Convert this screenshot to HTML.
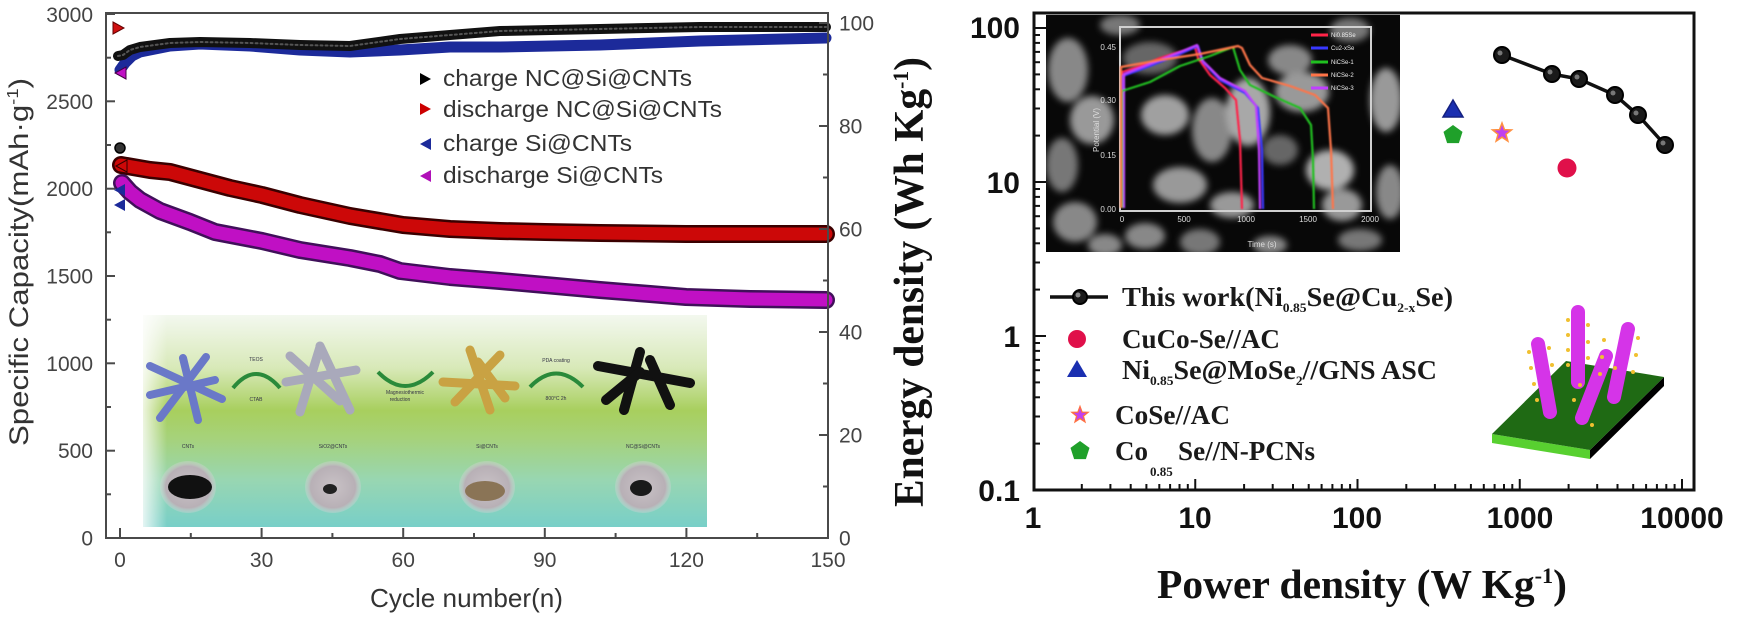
<!DOCTYPE html>
<html>
<head>
<meta charset="utf-8">
<style>
html,body{margin:0;padding:0;background:#fff;}
svg{display:block;}
</style>
</head>
<body>
<svg width="1737" height="617" viewBox="0 0 1737 617" xmlns="http://www.w3.org/2000/svg">
<defs>
  <linearGradient id="insetG" x1="0" y1="0" x2="0" y2="1">
    <stop offset="0" stop-color="#f3f8ef"/>
    <stop offset="0.25" stop-color="#d8e9b8"/>
    <stop offset="0.45" stop-color="#a8cf5e"/>
    <stop offset="0.58" stop-color="#a6d27a"/>
    <stop offset="0.78" stop-color="#98d6b2"/>
    <stop offset="1" stop-color="#78cfc8"/>
  </linearGradient>
  <linearGradient id="fadeL" x1="0" y1="0" x2="1" y2="0">
    <stop offset="0" stop-color="#fff" stop-opacity="0.8"/>
    <stop offset="1" stop-color="#fff" stop-opacity="0"/>
  </linearGradient>
  <radialGradient id="dish" cx="0.5" cy="0.5" r="0.5">
    <stop offset="0" stop-color="#c9c2c6"/>
    <stop offset="0.8" stop-color="#b8b0b6"/>
    <stop offset="1" stop-color="#d8d4d8" stop-opacity="0.3"/>
  </radialGradient>
  <filter id="blur3" x="-50%" y="-50%" width="200%" height="200%"><feGaussianBlur stdDeviation="3.5"/></filter>
  <filter id="blur1"><feGaussianBlur stdDeviation="0.7"/></filter>
  <clipPath id="semClip"><rect x="1046" y="15" width="354" height="237"/></clipPath>
</defs>

<!-- ================= LEFT CHART ================= -->
<rect x="143" y="315" width="564" height="212" fill="url(#insetG)"/>
<rect x="143" y="315" width="24" height="212" fill="url(#fadeL)"/>
<path d="M233,388 Q256,360 280,388" fill="none" stroke="#2a8a3a" stroke-width="4"/>
<path d="M378,372 Q405,400 433,372" fill="none" stroke="#2a8a3a" stroke-width="4"/>
<path d="M530,387 Q556,360 583,387" fill="none" stroke="#2a8a3a" stroke-width="4"/>
<g font-family="Liberation Sans, sans-serif" font-size="5" fill="#334">
  <text x="256" y="361" text-anchor="middle">TEOS</text>
  <text x="256" y="401" text-anchor="middle">CTAB</text>
  <text x="405" y="394" text-anchor="middle">Magnesiothermic</text>
  <text x="400" y="401" text-anchor="middle">reduction</text>
  <text x="556" y="362" text-anchor="middle">PDA coating</text>
  <text x="556" y="400" text-anchor="middle">800°C 2h</text>
  <text x="188" y="448" text-anchor="middle">CNTs</text>
  <text x="333" y="448" text-anchor="middle">SiO2@CNTs</text>
  <text x="487" y="448" text-anchor="middle">Si@CNTs</text>
  <text x="643" y="448" text-anchor="middle">NC@Si@CNTs</text>
</g>
<g stroke-linecap="round" fill="none">
  <g stroke="#6a78c8" stroke-width="8">
    <line x1="150" y1="366" x2="222" y2="399"/>
    <line x1="160" y1="418" x2="206" y2="357"/>
    <line x1="183" y1="358" x2="198" y2="420"/>
    <line x1="150" y1="395" x2="215" y2="380"/>
  </g>
  <g stroke="#a9a9bb" stroke-width="9">
    <line x1="286" y1="382" x2="356" y2="370"/>
    <line x1="300" y1="412" x2="320" y2="347"/>
    <line x1="320" y1="346" x2="350" y2="410"/>
    <line x1="290" y1="356" x2="340" y2="401"/>
  </g>
  <g stroke="#c9a243" stroke-width="9">
    <line x1="443" y1="382" x2="515" y2="386"/>
    <line x1="470" y1="350" x2="490" y2="410"/>
    <line x1="455" y1="402" x2="500" y2="355"/>
    <line x1="478" y1="362" x2="505" y2="398"/>
  </g>
  <g stroke="#111" stroke-width="10">
    <line x1="598" y1="366" x2="690" y2="383"/>
    <line x1="640" y1="352" x2="624" y2="410"/>
    <line x1="650" y1="360" x2="670" y2="405"/>
    <line x1="606" y1="400" x2="640" y2="372"/>
  </g>
</g>
<g>
  <ellipse cx="188" cy="487" rx="28" ry="26" fill="url(#dish)"/>
  <ellipse cx="333" cy="487" rx="28" ry="26" fill="url(#dish)"/>
  <ellipse cx="487" cy="487" rx="28" ry="26" fill="url(#dish)"/>
  <ellipse cx="643" cy="487" rx="28" ry="26" fill="url(#dish)"/>
  <ellipse cx="190" cy="487" rx="22" ry="12" fill="#111"/>
  <ellipse cx="330" cy="489" rx="7" ry="5" fill="#222"/>
  <ellipse cx="485" cy="491" rx="20" ry="10" fill="#8a7456"/>
  <ellipse cx="641" cy="488" rx="11" ry="8" fill="#1a1a1a"/>
</g>

<!-- data bands -->
<g fill="none" stroke-linejoin="round" stroke-linecap="round">
  <path d="M120,70 L125,63 L132,56 L140,52 L170,46 L200,44 L250,46 L300,50 L350,52 L400,50 L450,47 L500,47 L600,45 L700,41 L826,38" stroke="#1c2a9a" stroke-width="11"/>
  <path d="M118,56 L123,55 L130,50 L140,47 L170,43 L200,42 L250,43 L300,45 L350,46 L400,39 L450,35 L500,31 L600,29 L700,27 L826,27" stroke="#111" stroke-width="10"/>
  <path d="M118,56 L123,55 L130,50 L140,47 L170,43 L200,42 L250,43 L300,45 L350,46 L400,39 L450,35 L500,31 L600,29 L700,27 L826,27" stroke="#555" stroke-width="2" stroke-dasharray="2 3"/>
  <path d="M121,165 L150,170 L170,172 L200,180 L230,188 L262,195 L300,205 L350,216 L403,225 L450,229 L500,231 L545,232 L600,233 L686,234 L826,234" stroke="#3a0000" stroke-width="18"/>
  <path d="M121,165 L150,170 L170,172 L200,180 L230,188 L262,195 L300,205 L350,216 L403,225 L450,229 L500,231 L545,232 L600,233 L686,234 L826,234" stroke="#cc0808" stroke-width="13"/>
  <path d="M122,183 L130,192 L140,200 L160,211 L190,222 L215,232 L262,241 L300,250 L350,258 L380,264 L400,271 L450,277 L500,281 L545,285 L600,290 L650,294 L686,297 L750,299 L826,300" stroke="#40105a" stroke-width="18"/>
  <path d="M122,183 L130,192 L140,200 L160,211 L190,222 L215,232 L262,241 L300,250 L350,258 L380,264 L400,271 L450,277 L500,281 L545,285 L600,290 L650,294 L686,297 L750,299 L826,300" stroke="#c010c4" stroke-width="13"/>
</g>
<polygon points="113,22 124,28 113,34" fill="#d01010" stroke="#600" stroke-width="1"/>
<polygon points="126,67 115,73 126,79" fill="#c010c4" stroke="#404" stroke-width="1"/>
<circle cx="120" cy="148" r="5" fill="#333" stroke="#000" stroke-width="1.5"/>
<polygon points="125,184 114,190 125,196" fill="#1c2a9a"/>
<polygon points="125,199 114,205 125,211" fill="#1c2a9a"/>
<polygon points="127,160 116,166 127,172" fill="#cc0808" stroke="#300" stroke-width="1"/>

<rect x="106" y="13" width="722" height="525" fill="none" stroke="#4a4a4a" stroke-width="2"/>
<g stroke="#4a4a4a" stroke-width="2">
  <line x1="106" y1="538" x2="115" y2="538"/><line x1="106" y1="450.7" x2="115" y2="450.7"/>
  <line x1="106" y1="363.3" x2="115" y2="363.3"/><line x1="106" y1="276" x2="115" y2="276"/>
  <line x1="106" y1="188.7" x2="115" y2="188.7"/><line x1="106" y1="101.3" x2="115" y2="101.3"/>
  <line x1="106" y1="14" x2="115" y2="14"/>
  <line x1="106" y1="494.3" x2="111" y2="494.3"/><line x1="106" y1="407" x2="111" y2="407"/>
  <line x1="106" y1="319.7" x2="111" y2="319.7"/><line x1="106" y1="232.3" x2="111" y2="232.3"/>
  <line x1="106" y1="145" x2="111" y2="145"/><line x1="106" y1="57.7" x2="111" y2="57.7"/>
  <line x1="819" y1="538" x2="828" y2="538"/><line x1="819" y1="435" x2="828" y2="435"/>
  <line x1="819" y1="332" x2="828" y2="332"/><line x1="819" y1="229" x2="828" y2="229"/>
  <line x1="819" y1="126" x2="828" y2="126"/><line x1="819" y1="23" x2="828" y2="23"/>
  <line x1="823" y1="486.5" x2="828" y2="486.5"/><line x1="823" y1="383.5" x2="828" y2="383.5"/>
  <line x1="823" y1="280.5" x2="828" y2="280.5"/><line x1="823" y1="177.5" x2="828" y2="177.5"/>
  <line x1="823" y1="74.5" x2="828" y2="74.5"/>
  <line x1="120" y1="538" x2="120" y2="528"/><line x1="261.6" y1="538" x2="261.6" y2="528"/>
  <line x1="403.2" y1="538" x2="403.2" y2="528"/><line x1="544.8" y1="538" x2="544.8" y2="528"/>
  <line x1="686.4" y1="538" x2="686.4" y2="528"/>
  <line x1="190.8" y1="538" x2="190.8" y2="533"/><line x1="332.4" y1="538" x2="332.4" y2="533"/>
  <line x1="474" y1="538" x2="474" y2="533"/><line x1="615.6" y1="538" x2="615.6" y2="533"/>
  <line x1="757.2" y1="538" x2="757.2" y2="533"/>
</g>
<g font-family="Liberation Sans, sans-serif" font-size="21" fill="#444" text-anchor="end">
  <text x="93" y="545.5">0</text>
  <text x="93" y="458">500</text>
  <text x="93" y="371">1000</text>
  <text x="93" y="283.5">1500</text>
  <text x="93" y="196">2000</text>
  <text x="93" y="109">2500</text>
  <text x="93" y="22">3000</text>
</g>
<g font-family="Liberation Sans, sans-serif" font-size="21" fill="#444" text-anchor="start">
  <text x="839" y="545.5">0</text>
  <text x="839" y="442.5">20</text>
  <text x="839" y="339.5">40</text>
  <text x="839" y="236.5">60</text>
  <text x="839" y="133.5">80</text>
  <text x="839" y="30.5">100</text>
</g>
<g font-family="Liberation Sans, sans-serif" font-size="21" fill="#444" text-anchor="middle">
  <text x="120" y="567">0</text>
  <text x="261.6" y="567">30</text>
  <text x="403.2" y="567">60</text>
  <text x="544.8" y="567">90</text>
  <text x="686.4" y="567">120</text>
  <text x="828" y="567">150</text>
</g>
<text x="370" y="607" font-family="Liberation Sans, sans-serif" font-size="26" fill="#333" textLength="193" lengthAdjust="spacingAndGlyphs">Cycle number(n)</text>
<text transform="translate(28,262) rotate(-90)" text-anchor="middle" font-family="Liberation Sans, sans-serif" font-size="27" fill="#333" textLength="368" lengthAdjust="spacingAndGlyphs">Specific Capacity(mAh·g<tspan dy="-10" font-size="16">-1</tspan><tspan dy="10">)</tspan></text>

<polygon points="420,73 431,79 420,85" fill="#000"/>
<polygon points="420,103 431,109 420,115" fill="#c00"/>
<polygon points="431,138 420,144 431,150" fill="#1c2a9a"/>
<polygon points="431,170 420,176 431,182" fill="#b010b8"/>
<g font-family="Liberation Sans, sans-serif" font-size="23" fill="#333">
  <text x="443" y="86" textLength="249" lengthAdjust="spacingAndGlyphs">charge NC@Si@CNTs</text>
  <text x="443" y="117" textLength="279" lengthAdjust="spacingAndGlyphs">discharge NC@Si@CNTs</text>
  <text x="443" y="151" textLength="189" lengthAdjust="spacingAndGlyphs">charge Si@CNTs</text>
  <text x="443" y="183" textLength="220" lengthAdjust="spacingAndGlyphs">discharge Si@CNTs</text>
</g>

<!-- ================= RIGHT CHART ================= -->
<rect x="1046" y="15" width="354" height="237" fill="#080808"/>
<g clip-path="url(#semClip)" filter="url(#blur3)">
  <ellipse cx="1068" cy="70" rx="20" ry="32" fill="#888"/>
  <ellipse cx="1092" cy="120" rx="22" ry="24" fill="#999"/>
  <ellipse cx="1062" cy="165" rx="16" ry="27" fill="#777"/>
  <ellipse cx="1075" cy="222" rx="22" ry="20" fill="#888"/>
  <ellipse cx="1150" cy="58" rx="27" ry="16" fill="#666"/>
  <ellipse cx="1165" cy="115" rx="24" ry="20" fill="#a0a0a0"/>
  <ellipse cx="1180" cy="185" rx="27" ry="18" fill="#999"/>
  <ellipse cx="1145" cy="236" rx="20" ry="13" fill="#888"/>
  <ellipse cx="1212" cy="130" rx="20" ry="32" fill="#888"/>
  <ellipse cx="1248" cy="112" rx="22" ry="34" fill="#a8a8a8"/>
  <ellipse cx="1232" cy="205" rx="22" ry="13" fill="#999"/>
  <ellipse cx="1290" cy="60" rx="22" ry="15" fill="#888"/>
  <ellipse cx="1302" cy="92" rx="27" ry="20" fill="#999"/>
  <ellipse cx="1330" cy="170" rx="24" ry="20" fill="#b0b0b0"/>
  <ellipse cx="1342" cy="205" rx="20" ry="16" fill="#999"/>
  <ellipse cx="1386" cy="100" rx="16" ry="32" fill="#999"/>
  <ellipse cx="1390" cy="192" rx="14" ry="27" fill="#888"/>
  <ellipse cx="1270" cy="245" rx="17" ry="9" fill="#888"/>
  <ellipse cx="1360" cy="240" rx="22" ry="11" fill="#777"/>
  <ellipse cx="1105" cy="245" rx="17" ry="11" fill="#888"/>
  <ellipse cx="1200" cy="242" rx="20" ry="13" fill="#777"/>
  <ellipse cx="1280" cy="150" rx="18" ry="15" fill="#666"/>
  <ellipse cx="1120" cy="25" rx="20" ry="10" fill="#777"/>
  <ellipse cx="1350" cy="30" rx="20" ry="12" fill="#777"/>
</g>
<rect x="1120" y="27" width="251" height="184" fill="none" stroke="#d0d0d0" stroke-width="2"/>
<g font-family="Liberation Sans, sans-serif" font-size="8" fill="#ddd">
  <text x="1116" y="50" text-anchor="end">0.45</text>
  <text x="1116" y="103" text-anchor="end">0.30</text>
  <text x="1116" y="158" text-anchor="end">0.15</text>
  <text x="1116" y="212" text-anchor="end">0.00</text>
  <text x="1122" y="222" text-anchor="middle">0</text>
  <text x="1184" y="222" text-anchor="middle">500</text>
  <text x="1246" y="222" text-anchor="middle">1000</text>
  <text x="1308" y="222" text-anchor="middle">1500</text>
  <text x="1370" y="222" text-anchor="middle">2000</text>
  <text x="1262" y="247" text-anchor="middle">Time (s)</text>
  <text transform="translate(1099,130) rotate(-90)" text-anchor="middle">Potential (V)</text>
</g>
<g fill="none" stroke-width="2.2" stroke-linejoin="round" filter="url(#blur1)">
  <path d="M1122,208 L1122,72 L1140,66 L1160,58 L1185,50 L1195,47 L1198,58 L1210,75 L1225,88 L1236,100 L1240,140 L1242,209" stroke="#ff2448"/>
  <path d="M1123,208 L1123,76 L1150,66 L1180,54 L1198,46 L1203,62 L1220,80 L1245,93 L1258,108 L1262,150 L1263,209" stroke="#3838ff"/>
  <path d="M1124,208 L1124,74 L1150,64 L1180,52 L1197,45 L1202,60 L1220,78 L1245,91 L1256,106 L1259,150 L1260,209" stroke="#c040ff"/>
  <path d="M1122,208 L1122,91 L1150,82 L1180,66 L1210,56 L1233,47 L1240,70 L1250,85 L1275,97 L1300,108 L1311,125 L1313,160 L1314,209" stroke="#20c020"/>
  <path d="M1121,208 L1121,67 L1160,60 L1200,54 L1238,46 L1242,48 L1250,65 L1262,78 L1290,86 L1315,95 L1328,108 L1331,150 L1333,209" stroke="#ff7448"/>
</g>
<g stroke-width="3">
  <line x1="1311" y1="35" x2="1328" y2="35" stroke="#ff2448"/>
  <line x1="1311" y1="48" x2="1328" y2="48" stroke="#3838ff"/>
  <line x1="1311" y1="62" x2="1328" y2="62" stroke="#20c020"/>
  <line x1="1311" y1="75" x2="1328" y2="75" stroke="#ff7448"/>
  <line x1="1311" y1="88" x2="1328" y2="88" stroke="#c040ff"/>
</g>
<g font-family="Liberation Sans, sans-serif" font-size="6" fill="#eee">
  <text x="1331" y="37">Ni0.85Se</text>
  <text x="1331" y="50">Cu2-xSe</text>
  <text x="1331" y="64">NiCSe-1</text>
  <text x="1331" y="77">NiCSe-2</text>
  <text x="1331" y="90">NiCSe-3</text>
</g>

<polyline points="1502,55 1552,74 1579,79 1615,95 1638,115 1665,145" fill="none" stroke="#111" stroke-width="3.5"/>
<g fill="#1a1a1a" stroke="#000" stroke-width="2">
  <circle cx="1502" cy="55" r="8"/><circle cx="1552" cy="74" r="8"/>
  <circle cx="1579" cy="79" r="8"/><circle cx="1615" cy="95" r="8"/>
  <circle cx="1638" cy="115" r="8"/><circle cx="1665" cy="145" r="8"/>
</g>
<g fill="#777">
  <circle cx="1500" cy="53" r="2.5"/><circle cx="1550" cy="72" r="2.5"/>
  <circle cx="1577" cy="77" r="2.5"/><circle cx="1613" cy="93" r="2.5"/>
  <circle cx="1636" cy="113" r="2.5"/><circle cx="1663" cy="143" r="2.5"/>
</g>
<polygon transform="translate(1453,110)" points="0,-10 10,7 -10,7" fill="#1a2fb0" stroke="#142080" stroke-width="1.5"/>
<polygon transform="translate(1453,135)" points="0,-10 9.51,-3.09 5.88,8.09 -5.88,8.09 -9.51,-3.09" fill="#1fa02a"/>
<polygon transform="translate(1502,133)" points="0,-10 2.47,-3.4 9.51,-3.09 3.99,1.3 5.88,8.09 0,4.2 -5.88,8.09 -3.99,1.3 -9.51,-3.09 -2.47,-3.4" fill="#c040f0" stroke="#ff9040" stroke-width="1.5"/>
<circle cx="1567" cy="168" r="9.5" fill="#e0104a"/>

<!-- 3D illustration -->
<polygon points="1492,434 1590,450 1590,459 1492,443" fill="#58d030"/>
<polygon points="1590,450 1664,377 1664,386 1590,459" fill="#000"/>
<polygon points="1492,434 1566,361 1664,377 1590,450" fill="#1f6a14"/>
<g stroke-linecap="round">
  <line x1="1578" y1="382" x2="1578" y2="312" stroke="#d534e8" stroke-width="14"/>
  <line x1="1614" y1="397" x2="1628" y2="329" stroke="#d534e8" stroke-width="14"/>
  <line x1="1550" y1="412" x2="1538" y2="344" stroke="#d534e8" stroke-width="14"/>
  <line x1="1582" y1="418" x2="1606" y2="356" stroke="#d534e8" stroke-width="14"/>
</g>
<g fill="#f0c030">
  <circle cx="1568" cy="320" r="2"/><circle cx="1568" cy="335" r="2"/><circle cx="1568" cy="350" r="2"/><circle cx="1568" cy="365" r="2"/>
  <circle cx="1588" cy="325" r="2"/><circle cx="1588" cy="342" r="2"/><circle cx="1588" cy="358" r="2"/>
  <circle cx="1529" cy="352" r="2"/><circle cx="1531" cy="368" r="2"/><circle cx="1534" cy="384" r="2"/><circle cx="1537" cy="400" r="2"/>
  <circle cx="1549" cy="348" r="2"/><circle cx="1552" cy="365" r="2"/>
  <circle cx="1604" cy="340" r="2"/><circle cx="1602" cy="357" r="2"/><circle cx="1600" cy="374" r="2"/>
  <circle cx="1638" cy="338" r="2"/><circle cx="1636" cy="355" r="2"/><circle cx="1633" cy="372" r="2"/>
  <circle cx="1574" cy="400" r="2"/><circle cx="1580" cy="385" r="2"/><circle cx="1615" cy="368" r="2"/><circle cx="1592" cy="425" r="2"/>
</g>

<rect x="1034" y="13" width="660" height="477" fill="none" stroke="#111" stroke-width="3"/>
<g stroke="#111" stroke-width="2">
  <line x1="1034" y1="490" x2="1046" y2="490"/><line x1="1034" y1="336" x2="1046" y2="336"/>
  <line x1="1034" y1="182" x2="1046" y2="182"/><line x1="1034" y1="28" x2="1046" y2="28"/>
  <line x1="1034" y1="443.6" x2="1040" y2="443.6"/><line x1="1034" y1="416.5" x2="1040" y2="416.5"/>
  <line x1="1034" y1="397.3" x2="1040" y2="397.3"/><line x1="1034" y1="382.4" x2="1040" y2="382.4"/>
  <line x1="1034" y1="370.2" x2="1040" y2="370.2"/><line x1="1034" y1="359.9" x2="1040" y2="359.9"/>
  <line x1="1034" y1="350.9" x2="1040" y2="350.9"/><line x1="1034" y1="343" x2="1040" y2="343"/>
  <line x1="1034" y1="289.6" x2="1040" y2="289.6"/><line x1="1034" y1="262.5" x2="1040" y2="262.5"/>
  <line x1="1034" y1="243.3" x2="1040" y2="243.3"/><line x1="1034" y1="228.4" x2="1040" y2="228.4"/>
  <line x1="1034" y1="216.2" x2="1040" y2="216.2"/><line x1="1034" y1="205.9" x2="1040" y2="205.9"/>
  <line x1="1034" y1="196.9" x2="1040" y2="196.9"/><line x1="1034" y1="189" x2="1040" y2="189"/>
  <line x1="1034" y1="135.6" x2="1040" y2="135.6"/><line x1="1034" y1="108.5" x2="1040" y2="108.5"/>
  <line x1="1034" y1="89.3" x2="1040" y2="89.3"/><line x1="1034" y1="74.4" x2="1040" y2="74.4"/>
  <line x1="1034" y1="62.2" x2="1040" y2="62.2"/><line x1="1034" y1="51.9" x2="1040" y2="51.9"/>
  <line x1="1034" y1="42.9" x2="1040" y2="42.9"/><line x1="1034" y1="35" x2="1040" y2="35"/>
  <line x1="1195.25" y1="490" x2="1195.25" y2="479"/><line x1="1357.5" y1="490" x2="1357.5" y2="479"/>
  <line x1="1519.75" y1="490" x2="1519.75" y2="479"/><line x1="1682" y1="490" x2="1682" y2="479"/>
  <line x1="1081.8" y1="490" x2="1081.8" y2="484"/><line x1="1110.4" y1="490" x2="1110.4" y2="484"/>
  <line x1="1130.7" y1="490" x2="1130.7" y2="484"/><line x1="1146.4" y1="490" x2="1146.4" y2="484"/>
  <line x1="1159.3" y1="490" x2="1159.3" y2="484"/><line x1="1170.1" y1="490" x2="1170.1" y2="484"/>
  <line x1="1179.5" y1="490" x2="1179.5" y2="484"/><line x1="1187.8" y1="490" x2="1187.8" y2="484"/>
  <line x1="1244.1" y1="490" x2="1244.1" y2="484"/><line x1="1272.7" y1="490" x2="1272.7" y2="484"/>
  <line x1="1293" y1="490" x2="1293" y2="484"/><line x1="1308.7" y1="490" x2="1308.7" y2="484"/>
  <line x1="1321.6" y1="490" x2="1321.6" y2="484"/><line x1="1332.4" y1="490" x2="1332.4" y2="484"/>
  <line x1="1341.8" y1="490" x2="1341.8" y2="484"/><line x1="1350.1" y1="490" x2="1350.1" y2="484"/>
  <line x1="1406.3" y1="490" x2="1406.3" y2="484"/><line x1="1434.9" y1="490" x2="1434.9" y2="484"/>
  <line x1="1455.2" y1="490" x2="1455.2" y2="484"/><line x1="1470.9" y1="490" x2="1470.9" y2="484"/>
  <line x1="1483.8" y1="490" x2="1483.8" y2="484"/><line x1="1494.6" y1="490" x2="1494.6" y2="484"/>
  <line x1="1504" y1="490" x2="1504" y2="484"/><line x1="1512.3" y1="490" x2="1512.3" y2="484"/>
  <line x1="1568.6" y1="490" x2="1568.6" y2="484"/><line x1="1597.2" y1="490" x2="1597.2" y2="484"/>
  <line x1="1617.5" y1="490" x2="1617.5" y2="484"/><line x1="1633.2" y1="490" x2="1633.2" y2="484"/>
  <line x1="1646.1" y1="490" x2="1646.1" y2="484"/><line x1="1656.9" y1="490" x2="1656.9" y2="484"/>
  <line x1="1666.3" y1="490" x2="1666.3" y2="484"/><line x1="1674.6" y1="490" x2="1674.6" y2="484"/>
</g>
<g font-family="Liberation Sans, sans-serif" font-weight="bold" font-size="30" fill="#111">
  <text x="1020" y="38" text-anchor="end">100</text>
  <text x="1020" y="193" text-anchor="end">10</text>
  <text x="1020" y="347" text-anchor="end">1</text>
  <text x="1020" y="501" text-anchor="end">0.1</text>
  <text x="1033" y="528" text-anchor="middle">1</text>
  <text x="1195" y="528" text-anchor="middle">10</text>
  <text x="1357" y="528" text-anchor="middle">100</text>
  <text x="1520" y="528" text-anchor="middle">1000</text>
  <text x="1682" y="528" text-anchor="middle">10000</text>
</g>
<text x="1157" y="598" font-family="Liberation Serif, serif" font-weight="bold" font-size="41" fill="#111" textLength="410" lengthAdjust="spacingAndGlyphs">Power density (W Kg<tspan dy="-15" font-size="22">-1</tspan><tspan dy="15">)</tspan></text>
<text transform="translate(923,282) rotate(-90)" text-anchor="middle" font-family="Liberation Serif, serif" font-weight="bold" font-size="42" fill="#111" textLength="450" lengthAdjust="spacingAndGlyphs">Energy density (Wh Kg<tspan dy="-15" font-size="22">-1</tspan><tspan dy="15">)</tspan></text>

<line x1="1050" y1="297" x2="1108" y2="297" stroke="#111" stroke-width="3.5"/>
<circle cx="1080" cy="297" r="7" fill="#1a1a1a" stroke="#000" stroke-width="2"/>
<circle cx="1078" cy="295" r="2.5" fill="#888"/>
<circle cx="1077" cy="339" r="9" fill="#e0104a"/>
<polygon transform="translate(1077,370)" points="0,-10 10,7 -10,7" fill="#1a2fb0"/>
<polygon transform="translate(1080,415) scale(0.85)" points="0,-10 2.47,-3.4 9.51,-3.09 3.99,1.3 5.88,8.09 0,4.2 -5.88,8.09 -3.99,1.3 -9.51,-3.09 -2.47,-3.4" fill="#c040f0" stroke="#ff7040" stroke-width="1.5"/>
<polygon transform="translate(1080,451)" points="0,-10 9.51,-3.09 5.88,8.09 -5.88,8.09 -9.51,-3.09" fill="#1fa02a"/>
<g font-family="Liberation Serif, serif" font-weight="bold" font-size="27" fill="#1a1a1a">
  <text x="1122" y="306" textLength="331" lengthAdjust="spacingAndGlyphs">This work(Ni<tspan font-size="13" dy="6">0.85</tspan><tspan dy="-6">Se@Cu</tspan><tspan font-size="13" dy="6">2-x</tspan><tspan dy="-6">Se)</tspan></text>
  <text x="1122" y="348" textLength="158" lengthAdjust="spacingAndGlyphs">CuCo-Se//AC</text>
  <text x="1122" y="379" textLength="315" lengthAdjust="spacingAndGlyphs">Ni<tspan font-size="13" dy="6">0.85</tspan><tspan dy="-6">Se@MoSe</tspan><tspan font-size="13" dy="6">2</tspan><tspan dy="-6">//GNS ASC</tspan></text>
  <text x="1115" y="424" textLength="115" lengthAdjust="spacingAndGlyphs">CoSe//AC</text>
  <text x="1115" y="460">Co</text>
  <text x="1150" y="476" font-size="13">0.85</text>
  <text x="1178" y="460" textLength="137" lengthAdjust="spacingAndGlyphs">Se//N-PCNs</text>
</g>
</svg>
</body>
</html>
